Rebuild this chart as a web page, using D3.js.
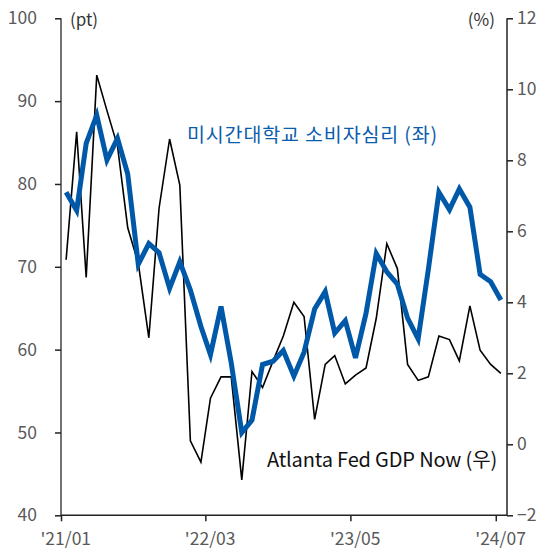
<!DOCTYPE html>
<html>
<head>
<meta charset="utf-8">
<script src="https://cdn.jsdelivr.net/npm/d3@7"></script>
<style>
  html, body { margin: 0; padding: 0; background: #fff; }
  svg { display: block; font-family: "Noto Sans CJK KR", "Noto Sans", sans-serif; }
</style>
</head>
<body>
<svg id="chart" width="544" height="552"></svg>
<script>
const months = [
  "2021-01","2021-02","2021-03","2021-04","2021-05","2021-06","2021-07","2021-08","2021-09","2021-10","2021-11","2021-12",
  "2022-01","2022-02","2022-03","2022-04","2022-05","2022-06","2022-07","2022-08","2022-09","2022-10","2022-11","2022-12",
  "2023-01","2023-02","2023-03","2023-04","2023-05","2023-06","2023-07","2023-08","2023-09","2023-10","2023-11","2023-12",
  "2024-01","2024-02","2024-03","2024-04","2024-05","2024-06","2024-07"
];
const sentiment = [
  79.0, 76.8, 84.9, 88.3, 82.9, 85.5, 81.2, 70.3, 72.8, 71.7, 67.4, 70.6,
  67.2, 62.8, 59.4, 65.2, 58.4, 50.0, 51.5, 58.2, 58.6, 59.9, 56.8, 59.7,
  64.9, 67.0, 62.0, 63.5, 59.0, 64.4, 71.6, 69.4, 67.9, 63.8, 61.3, 69.7,
  79.0, 76.9, 79.4, 77.2, 69.1, 68.2, 66.0
];
const gdpNow = [
  5.2, 8.8, 4.7, 10.4, 9.4, 8.4, 6.1, 5.1, 3.0, 6.65, 8.6, 7.3,
  0.1, -0.5, 1.3, 1.9, 1.9, -1.0, 2.05, 1.6, 2.35, 3.05, 4.0, 3.6,
  0.7, 2.25, 2.5, 1.7, 1.95, 2.15, 3.55, 5.65, 4.95, 2.25, 1.8, 1.9,
  3.05, 2.95, 2.35, 3.9, 2.65, 2.25, 2.0
];
const xTickMonths = ["2021-01", "2022-03", "2023-05", "2024-07"];
const xTickLabels = ["'21/01", "'22/03", "'23/05", "'24/07"];
const leftTicks = [40, 50, 60, 70, 80, 90, 100];
const rightTicks = [-2, 0, 2, 4, 6, 8, 10, 12];
const sentimentLabel = "미시간대학교 소비자심리 (좌)";
const gdpLabel = "Atlanta Fed GDP Now (우)";
const leftUnit = "(pt)";
const rightUnit = "(%)";

const parse = d3.timeParse("%Y-%m");
const monthStart = months.map(parse);
const midMonth = monthStart.map(d => d3.timeDay.offset(d, 15));

const L = 61, R = 507, T = 18.3, B = 515.3;
const svg = d3.select("#chart");

const x = d3.scaleTime()
  .domain([parse("2021-01"), d3.timeDay.offset(parse("2024-07"), 33.5)])
  .range([L, R]);
const yL = d3.scaleLinear().domain([40, 100]).range([B, T]);
const yR = d3.scaleLinear().domain([-2, 12]).range([B, T]);

const tickColor = "#595959";
const fs = 17.5;

const gL = svg.append("g").attr("transform", `translate(${L},0)`)
  .call(d3.axisLeft(yL).tickValues(leftTicks).tickSize(6).tickPadding(18).tickFormat(d3.format("d")));
const gR = svg.append("g").attr("transform", `translate(${R},0)`)
  .call(d3.axisRight(yR).tickValues(rightTicks).tickSize(6).tickPadding(4).tickFormat(d3.format("d")));
const gB = svg.append("g").attr("transform", `translate(0,${B})`)
  .call(d3.axisBottom(x).tickValues(xTickMonths.map(parse)).tickSize(6).tickPadding(11)
    .tickFormat((d, i) => xTickLabels[i]));

[gL, gR, gB].forEach(g => {
  g.select(".domain").attr("stroke", "#222").attr("stroke-width", 1.5);
  g.selectAll(".tick line").attr("stroke", "#222").attr("stroke-width", 1.5);
  g.selectAll(".tick text").attr("fill", tickColor).style("font-size", fs + "px")
    .style("font-family", "'Noto Sans CJK KR', 'Noto Sans', sans-serif");
});
gL.select(".domain").attr("stroke", "#444");
const halfMonth = x(parse("2021-02")) - x(parse("2021-01"));
gB.selectAll(".tick text").attr("dx", halfMonth / 2 - 1);
gB.select(".domain").attr("d", `M${L},0H${R}`);
gL.select(".domain").attr("d", `M0,${T}V${B}`);
gR.select(".domain").attr("d", `M0,${T}V${B}`);

const lineS = d3.line().x((d, i) => x(midMonth[i])).y(d => yL(d));
const lineG = d3.line().x((d, i) => x(midMonth[i])).y(d => yR(d));

svg.append("path").datum(gdpNow)
  .attr("fill", "none").attr("stroke", "#000").attr("stroke-width", 1.6)
  .attr("stroke-linejoin", "miter").attr("d", lineG);

svg.append("path").datum(sentiment)
  .attr("fill", "none").attr("stroke", "#0058a9").attr("stroke-width", 5)
  .attr("stroke-linejoin", "miter").attr("d", lineS);

svg.append("text").attr("x", 70).attr("y", 26).attr("fill", "#333")
  .style("font-size", "17px").text(leftUnit);
svg.append("text").attr("x", 495).attr("y", 26).attr("fill", "#333").attr("text-anchor", "end")
  .style("font-size", "17px").text(rightUnit);

function fitSpacing(sel, target) {
  const txt = sel.text();
  const w = sel.node().getComputedTextLength();
  const n = Array.from(txt).length;
  const ls = (target - w) / n;
  sel.style("letter-spacing", ls + "px");
}

const t1 = svg.append("text").attr("x", 187).attr("y", 142).attr("fill", "#0a5cac")
  .style("font-size", "19.5px").text(sentimentLabel);
fitSpacing(t1, 251);
const t2 = svg.append("text").attr("x", 267).attr("y", 466.5).attr("fill", "#111")
  .style("font-size", "20px").text(gdpLabel);
fitSpacing(t2, 230);
</script>
</body>
</html>
